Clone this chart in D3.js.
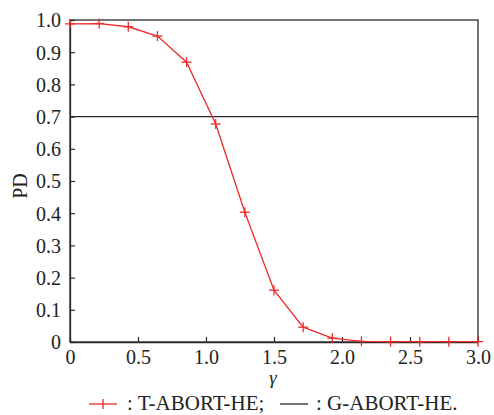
<!DOCTYPE html>
<html><head><meta charset="utf-8">
<script src="https://cdn.jsdelivr.net/npm/d3@7"></script>
<style>
body{margin:0;background:#fff}
svg{display:block}
svg text{font-family:"Liberation Serif",Tinos,"Times New Roman",serif;}
</style>
</head><body>
<script>
const gammaValues = [0, 3/14, 6/14, 9/14, 12/14, 15/14, 18/14, 21/14, 24/14, 27/14, 30/14, 33/14, 36/14, 39/14, 42/14];
const pdTAbort = [0.988, 0.989, 0.979, 0.950, 0.869, 0.677, 0.403, 0.161, 0.046, 0.012, 0.002, 0.001, 0.001, 0.001, 0.001];
const pdGAbort = 0.7;
const xTicks = [0, 0.5, 1.0, 1.5, 2.0, 2.5, 3.0];
const yTicks = [0, 0.1, 0.2, 0.3, 0.4, 0.5, 0.6, 0.7, 0.8, 0.9, 1.0];
const legendLabels = [": T-ABORT-HE;", ": G-ABORT-HE."];

const FONT = '"Liberation Serif", Tinos, "Times New Roman", serif';
const W = 494, H = 415;
const m = {l: 70, r: 16, t: 20, b: 73};
const svg = d3.select("body").append("svg").attr("width", W).attr("height", H)
  .attr("font-family", FONT);
const x = d3.scaleLinear().domain([0, 3]).range([m.l, W - m.r]);
const y = d3.scaleLinear().domain([0, 1]).range([H - m.b, m.t]);
const red = "#ee2a2a", dark = "#2a2a2a", txt = "#222";

svg.append("rect").attr("x", x(0)).attr("y", y(1)).attr("width", x(3) - x(0)).attr("height", y(0) - y(1))
  .attr("fill", "none").attr("stroke", dark).attr("stroke-width", 1.3);

const fmt = d => d === 0 ? "0" : d3.format(".1f")(d);
const xa = svg.append("g").attr("transform", `translate(0,${y(0)})`)
  .call(d3.axisBottom(x).tickValues(xTicks).tickFormat(fmt).tickSizeInner(-5).tickSizeOuter(0).tickPadding(8));
const ya = svg.append("g").attr("transform", `translate(${x(0)},0)`)
  .call(d3.axisLeft(y).tickValues(yTicks).tickFormat(fmt).tickSizeInner(-5).tickSizeOuter(0).tickPadding(9));
[xa, ya].forEach(a => {
  a.attr("font-family", FONT).attr("font-size", 20);
  a.select(".domain").attr("stroke", dark).attr("stroke-width", 1.3);
  a.selectAll(".tick line").attr("stroke", dark).attr("stroke-width", 1.2);
  a.selectAll("text").attr("font-family", FONT).attr("font-size", 20).attr("fill", txt);
});
ya.selectAll("text").attr("dy", "0.34em");

svg.append("line").attr("x1", x(0)).attr("x2", x(3)).attr("y1", y(pdGAbort)).attr("y2", y(pdGAbort))
  .attr("stroke", dark).attr("stroke-width", 1.3);

const pts = gammaValues.map((g, i) => [g, pdTAbort[i]]);
svg.append("path").datum(pts).attr("fill", "none").attr("stroke", red).attr("stroke-width", 1.3)
  .attr("d", d3.line().x(d => x(d[0])).y(d => y(d[1])));
const plus = svg.append("g").selectAll("g").data(pts).join("g")
  .attr("transform", d => `translate(${x(d[0])},${y(d[1])})`);
plus.append("line").attr("x1", -5).attr("x2", 5).attr("stroke", red).attr("stroke-width", 1.3);
plus.append("line").attr("y1", -5).attr("y2", 5).attr("stroke", red).attr("stroke-width", 1.3);

function label(sel) { return sel.attr("font-family", FONT).attr("fill", txt); }

label(svg.append("text")).attr("x", (x(0) + x(3)) / 2 - 1).attr("y", 384).attr("text-anchor", "middle")
  .attr("font-size", 19).attr("font-style", "italic").text("γ");
label(svg.append("text")).attr("transform", `translate(27,${(y(0) + y(1)) / 2 + 5}) rotate(-90)`).attr("text-anchor", "middle")
  .attr("font-size", 20).text("PD");

const ly = 404;
svg.append("line").attr("x1", 89).attr("x2", 117).attr("y1", ly).attr("y2", ly).attr("stroke", red).attr("stroke-width", 1.3);
svg.append("line").attr("x1", 103).attr("x2", 103).attr("y1", ly - 5).attr("y2", ly + 5).attr("stroke", red).attr("stroke-width", 1.3);
label(svg.append("text")).attr("x", 127).attr("y", ly + 6).attr("font-size", 21).text(legendLabels[0]);
svg.append("line").attr("x1", 280).attr("x2", 308).attr("y1", ly).attr("y2", ly).attr("stroke", dark).attr("stroke-width", 1.3);
label(svg.append("text")).attr("x", 316).attr("y", ly + 6).attr("font-size", 21).text(legendLabels[1]);
</script>
</body></html>
